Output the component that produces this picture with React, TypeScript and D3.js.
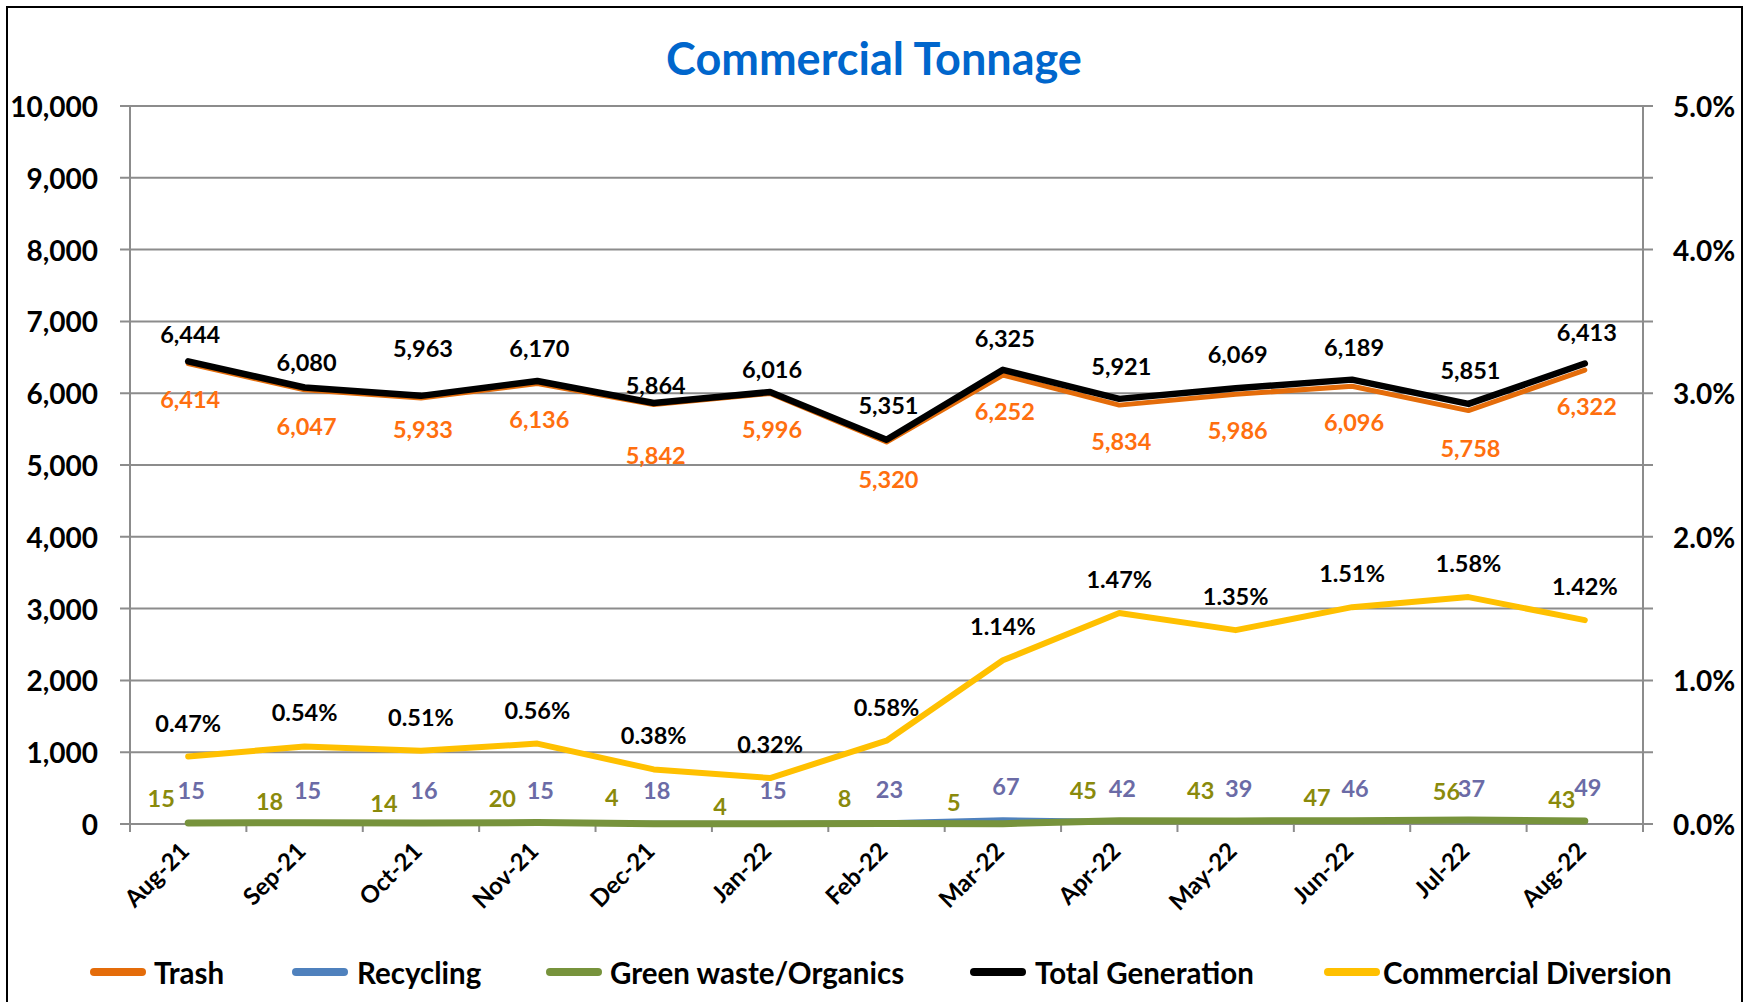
import React from "react";
import * as d3 from "d3";

const months = ["Aug-21","Sep-21","Oct-21","Nov-21","Dec-21","Jan-22","Feb-22","Mar-22","Apr-22","May-22","Jun-22","Jul-22","Aug-22"];
const trash = [6414, 6047, 5933, 6136, 5842, 5996, 5320, 6252, 5834, 5986, 6096, 5758, 6322];
const recycling = [15, 15, 16, 15, 18, 15, 23, 67, 42, 39, 46, 37, 49];
const green = [15, 18, 14, 20, 4, 4, 8, 5, 45, 43, 47, 56, 43];
const total = [6444, 6080, 5963, 6170, 5864, 6016, 5351, 6325, 5921, 6069, 6189, 5851, 6413];
const diversion = [0.47, 0.54, 0.51, 0.56, 0.38, 0.32, 0.58, 1.14, 1.47, 1.35, 1.51, 1.58, 1.42];

const leftTicks = [0, 1000, 2000, 3000, 4000, 5000, 6000, 7000, 8000, 9000, 10000];
const rightTicks = [0, 1, 2, 3, 4, 5];

// label offsets (layout only)
const totalLabelDy = [-27, -25, -48, -33, -18, -23, -35, -32, -33, -34, -33, -34, -32];
const trashLabelDy = [36, 36, 31, 36, 50, 36, 37, 36, 36, 36, 36, 37, 36];
const greenLabelDx = [-27, -35, -37, -35, -42, -50, -42, -49, -36, -35, -35, -22, -23];
const greenLabelDy = [-25, -22, -20, -25, -27, -18, -25, -22, -31, -31, -24, -29, -22];

const W = 1754, H = 1002;
const L = 130, R = 1643, T = 106, B = 824;
const FONT = "Lato, 'Open Sans', sans-serif";
const LBL = 23.5;

const C_TRASH = "#E46C0A";
const C_REC = "#4F81BD";
const C_GREEN = "#77933C";
const C_TOTAL = "#000000";
const C_DIV = "#FFC000";
const GRID = "#8C8C8C";

export default function App() {
  const x = d3.scalePoint<string>().domain(months).range([L, R]).padding(0.5);
  const step = x.step();
  const y = d3.scaleLinear().domain([0, 10000]).range([B, T]);
  const y2 = d3.scaleLinear().domain([0, 5]).range([B, T]);
  const fmt = d3.format(",");

  const mk = (vals: number[], sc: d3.ScaleLinear<number, number>) =>
    d3.line<number>().x((_, i) => x(months[i])!).y((v) => sc(v))(vals)!;

  const legend = [
    { label: "Trash", color: C_TRASH, sx: 90, tx: 154 },
    { label: "Recycling", color: C_REC, sx: 292, tx: 357 },
    { label: "Green waste/Organics", color: C_GREEN, sx: 546, tx: 610 },
    { label: "Total Generation", color: C_TOTAL, sx: 970, tx: 1035 },
    { label: "Commercial Diversion", color: C_DIV, sx: 1324, tx: 1383 },
  ];

  const boundaries = d3.range(months.length + 1).map((i) => L + i * step);

  return (
    <svg width={W} height={H} style={{ position: "absolute", left: 0, top: 0, background: "#fff" }} fontFamily={FONT}>
      <rect x={0} y={0} width={W} height={H} fill="#fff" />
      <rect x={7} y={7} width={1735} height={1010} fill="none" stroke="#000" strokeWidth={2} />
      <text x={874} y={58} textAnchor="middle" dominantBaseline="central" fontSize={45} fontWeight="bold" fill="#0066CC">
        Commercial Tonnage
      </text>

      {/* gridlines */}
      {leftTicks.map((t) => (
        <line key={"g" + t} x1={L - 10} x2={R + 10} y1={y(t)} y2={y(t)} stroke={GRID} strokeWidth={2} />
      ))}
      <line x1={L} x2={L} y1={T} y2={B + 8} stroke={GRID} strokeWidth={2} />
      <line x1={R} x2={R} y1={T} y2={B + 8} stroke={GRID} strokeWidth={2} />
      {boundaries.map((bx, i) => (
        <line key={"tk" + i} x1={bx} x2={bx} y1={B} y2={B + 8} stroke={GRID} strokeWidth={2} />
      ))}

      {/* left ticks */}
      {leftTicks.map((t) => (
        <text key={"lt" + t} x={98} y={y(t)} textAnchor="end" dominantBaseline="central" fontSize={28} fontWeight="bold" fill="#000">
          {fmt(t)}
        </text>
      ))}
      {rightTicks.map((t) => (
        <text key={"rt" + t} x={1673} y={y2(t)} textAnchor="start" dominantBaseline="central" fontSize={28} fontWeight="bold" fill="#000">
          {t.toFixed(1) + "%"}
        </text>
      ))}

      {/* category labels */}
      {months.map((m) => (
        <text
          key={"m" + m}
          transform={`translate(${x(m)! - 4},${B + 22}) rotate(-45)`}
          textAnchor="end"
          dominantBaseline="central"
          fontSize={24}
          fontWeight="bold"
          fill="#000"
        >
          {m}
        </text>
      ))}

      {/* lines */}
      <path d={mk(trash, y)} fill="none" stroke={C_TRASH} strokeWidth={5} strokeLinejoin="round" strokeLinecap="round" />
      <path d={mk(recycling, y)} fill="none" stroke={C_REC} strokeWidth={4} strokeLinejoin="round" strokeLinecap="round" />
      <path d={mk(green, y)} fill="none" stroke={C_GREEN} strokeWidth={7} strokeLinejoin="round" strokeLinecap="round" />
      <path d={mk(total, y)} fill="none" stroke={C_TOTAL} strokeWidth={6.5} strokeLinejoin="round" strokeLinecap="round" />
      <path d={mk(diversion, y2)} fill="none" stroke={C_DIV} strokeWidth={6} strokeLinejoin="round" strokeLinecap="round" />

      {/* data labels */}
      {total.map((v, i) => (
        <text key={"tl" + i} x={x(months[i])! + 2} y={y(v) + totalLabelDy[i]} textAnchor="middle" dominantBaseline="central" fontSize={LBL} fontWeight="bold" fill="#000">
          {fmt(v)}
        </text>
      ))}
      {trash.map((v, i) => (
        <text key={"trl" + i} x={x(months[i])! + 2} y={y(v) + trashLabelDy[i]} textAnchor="middle" dominantBaseline="central" fontSize={LBL} fontWeight="bold" fill="#FF6F0F">
          {fmt(v)}
        </text>
      ))}
      {diversion.map((v, i) => (
        <text key={"dl" + i} x={x(months[i])!} y={y2(v) - 34} textAnchor="middle" dominantBaseline="central" fontSize={LBL} fontWeight="bold" fill="#000">
          {v.toFixed(2) + "%"}
        </text>
      ))}
      {recycling.map((v, i) => (
        <text key={"rl" + i} x={x(months[i])! + 3} y={y(v) - 33} textAnchor="middle" dominantBaseline="central" fontSize={LBL} fontWeight="bold" fill="#6B6BA6">
          {fmt(v)}
        </text>
      ))}
      {green.map((v, i) => (
        <text key={"gl" + i} x={x(months[i])! + greenLabelDx[i]} y={y(v) + greenLabelDy[i]} textAnchor="middle" dominantBaseline="central" fontSize={LBL} fontWeight="bold" fill="#8A8A0C">
          {fmt(v)}
        </text>
      ))}

      {/* legend */}
      {legend.map((lg) => (
        <g key={lg.label}>
          <line x1={lg.sx + 4} x2={lg.sx + 52} y1={972} y2={972} stroke={lg.color} strokeWidth={8} strokeLinecap="round" />
          <text x={lg.tx} y={972} dominantBaseline="central" fontSize={29.5} fontWeight="bold" fill="#000">
            {lg.label}
          </text>
        </g>
      ))}
    </svg>
  );
}
